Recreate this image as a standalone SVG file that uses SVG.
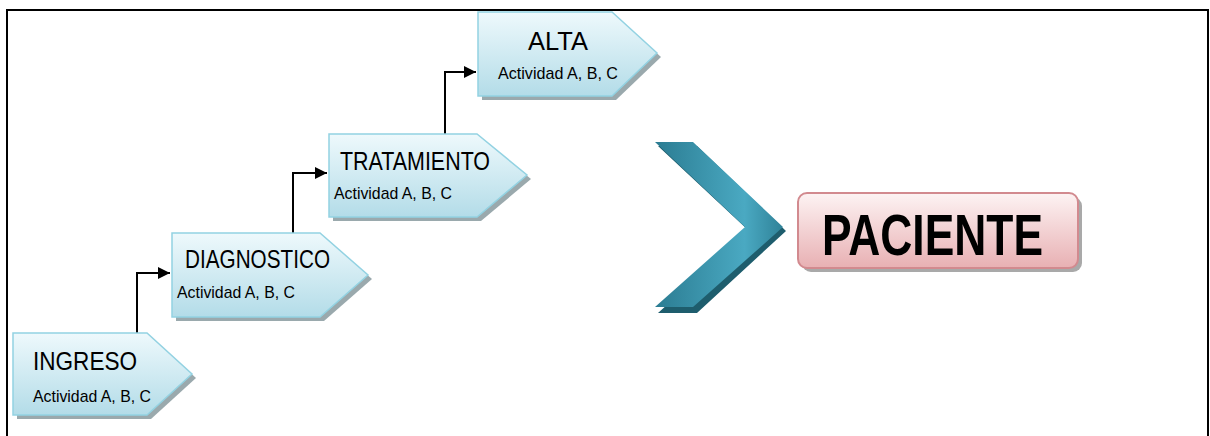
<svg xmlns="http://www.w3.org/2000/svg" width="1210" height="436" viewBox="0 0 1210 436">
<defs>
<linearGradient id="boxg" x1="0" y1="0" x2="0" y2="1">
<stop offset="0" stop-color="#eef9fc"/>
<stop offset="1" stop-color="#b3dce8"/>
</linearGradient>
<linearGradient id="pg" x1="0" y1="0" x2="0" y2="1">
<stop offset="0" stop-color="#fdf3f3"/>
<stop offset="1" stop-color="#e8b0b3"/>
</linearGradient>
<linearGradient id="cg" x1="0" y1="0" x2="1" y2="0">
<stop offset="0" stop-color="#2b7c92"/>
<stop offset="0.7" stop-color="#4aa9c2"/>
<stop offset="1" stop-color="#2f8298"/>
</linearGradient>
<marker id="ah" viewBox="0 0 12 12" refX="12" refY="6" markerWidth="12" markerHeight="12" markerUnits="userSpaceOnUse" orient="auto">
<path d="M0,0 L12,6 L0,12 Z" fill="#000"/>
</marker>
<style>
.box{fill:url(#boxg);stroke:#93d2e2;stroke-width:1.5}
.sh{fill:#9aa9ad}
.t{font-family:"Liberation Sans Narrow","Liberation Sans",Arial,sans-serif;fill:#000}
.h{font-size:25px}
.s{font-size:17px}
.c{fill:none;stroke:#000;stroke-width:2}
</style>
</defs>
<rect x="0" y="0" width="1210" height="436" fill="#fff"/>
<path d="M7,436 V10 H1208 V436" fill="none" stroke="#000" stroke-width="2"/>

<g id="connectors">
<path class="c" d="M137,333 V273 H170" marker-end="url(#ah)"/>
<path class="c" d="M293,233 V173 H327" marker-end="url(#ah)"/>
<path class="c" d="M445,134 V72 H476" marker-end="url(#ah)"/>
</g>

<g id="ingreso">
<path class="sh" d="M17,337 H151 L196,378 L151,419 H17 Z"/>
<path class="box" d="M13,333 H147 L192,374 L147,415 H13 Z"/>
<text class="t h" x="33" y="370" textLength="104" lengthAdjust="spacingAndGlyphs">INGRESO</text>
<text class="t s" x="33" y="402" textLength="118" lengthAdjust="spacingAndGlyphs">Actividad A, B, C</text>
</g>

<g id="diagnostico">
<path class="sh" d="M176,237 H324 L372,279 L324,321 H176 Z"/>
<path class="box" d="M172,233 H320 L368,275 L320,317 H172 Z"/>
<text class="t h" x="185" y="268" textLength="145" lengthAdjust="spacingAndGlyphs">DIAGNOSTICO</text>
<text class="t s" x="177" y="298" textLength="118" lengthAdjust="spacingAndGlyphs">Actividad A, B, C</text>
</g>

<g id="tratamiento">
<path class="sh" d="M333,138 H481 L531,179 L481,221 H333 Z"/>
<path class="box" d="M329,134 H477 L527,175 L477,217 H329 Z"/>
<text class="t h" x="340" y="170" textLength="150" lengthAdjust="spacingAndGlyphs">TRATAMIENTO</text>
<text class="t s" x="334" y="199" textLength="118" lengthAdjust="spacingAndGlyphs">Actividad A, B, C</text>
</g>

<g id="alta">
<path class="sh" d="M482,16 H616 L661,57 L616,100 H482 Z"/>
<path class="box" d="M478,12 H612 L657,53 L612,96 H478 Z"/>
<text class="t h" x="528" y="50" textLength="60" lengthAdjust="spacingAndGlyphs">ALTA</text>
<text class="t s" x="498" y="79" textLength="120" lengthAdjust="spacingAndGlyphs">Actividad A, B, C</text>
</g>

<g id="chevron">
<path d="M658,146 H697 L786,231 L697,313 H658 L749,231 Z" fill="#1e5d6d"/>
<path d="M655,142 H693 L783,227 L693,307 H655 L745,227 Z" fill="url(#cg)"/>
</g>

<g id="paciente">
<rect x="802" y="197" width="280" height="75" rx="9" fill="#a9a9a9"/>
<rect x="798" y="193" width="280" height="75" rx="9" fill="url(#pg)" stroke="#d28a8f" stroke-width="2"/>
<text class="t" x="822" y="255" font-size="58" font-weight="bold" textLength="221" lengthAdjust="spacingAndGlyphs">PACIENTE</text>
</g>
</svg>
